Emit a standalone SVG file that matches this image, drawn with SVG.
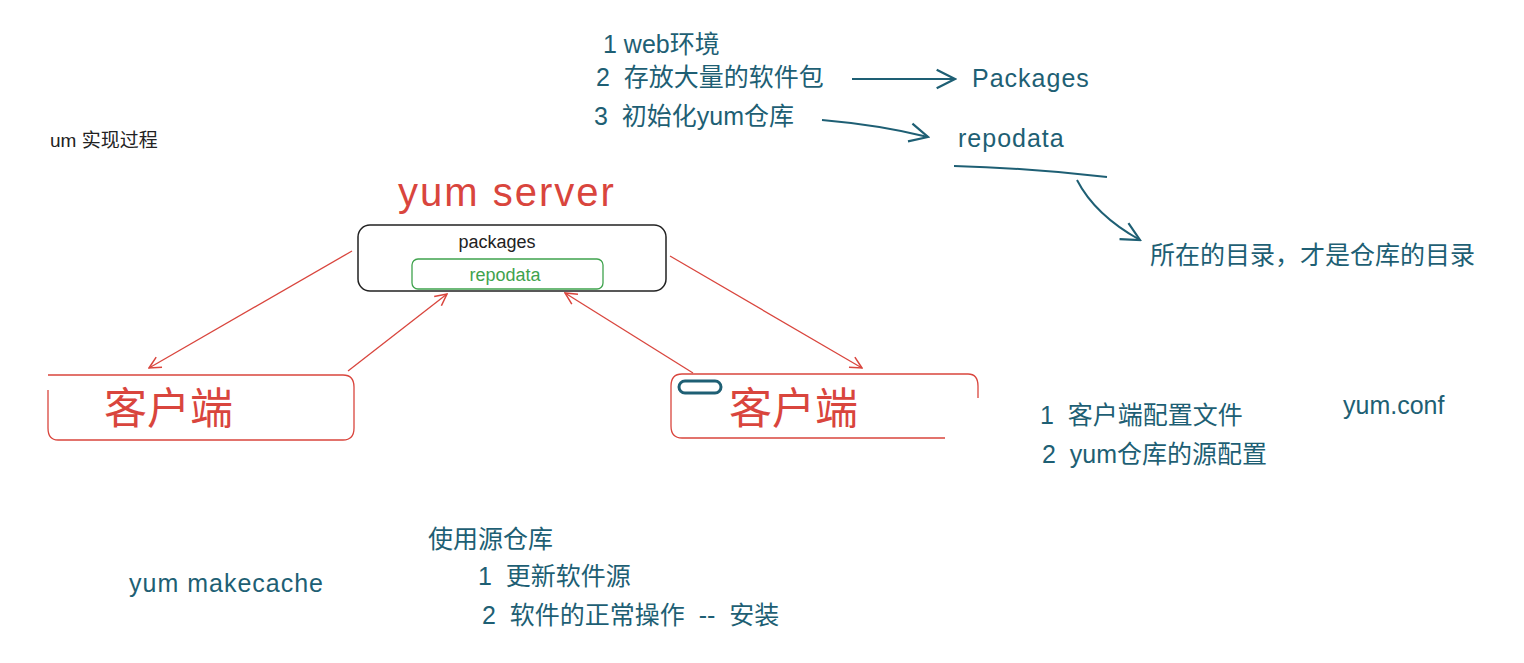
<svg xmlns="http://www.w3.org/2000/svg" width="1524" height="663" viewBox="0 0 1524 663">
<style>
.t{font-family:"Liberation Sans","Noto Sans CJK SC",sans-serif;fill:#1e5f74;font-size:25px;white-space:pre}
.r{stroke:#d9453d;stroke-width:1.3;fill:none}
.b{stroke:#1e5f74;stroke-width:2;fill:none}
</style>
<defs>
<marker id="ar" viewBox="0 0 12 12" refX="11" refY="6" markerWidth="14" markerHeight="14" markerUnits="userSpaceOnUse" orient="auto"><path d="M1 1 L11 6 L1 11" fill="none" stroke="#d9453d" stroke-width="1.3"/></marker>
<marker id="ab" viewBox="0 0 12 12" refX="11" refY="6" markerWidth="22" markerHeight="22" markerUnits="userSpaceOnUse" orient="auto"><path d="M1 1 L11 6 L1 11" fill="none" stroke="#1e5f74" stroke-width="1.2"/></marker>
</defs>
<rect width="1524" height="663" fill="#fff"/>
<text x="50" y="147" font-family="Liberation Sans,Noto Sans CJK SC,sans-serif" font-size="19" fill="#222">um 实现过程</text>
<g id="title"><text x="398" y="206" font-family="Liberation Sans,sans-serif" font-size="40" letter-spacing="2" fill="#d9453d">yum server</text></g>
<g id="server">
<rect x="358" y="225" width="308" height="66" rx="12" fill="none" stroke="#222" stroke-width="1.5"/>
<text x="497" y="248" text-anchor="middle" font-family="Liberation Sans,sans-serif" font-size="18" fill="#222">packages</text>
<rect x="412" y="259" width="191" height="30" rx="6" fill="none" stroke="#3fa34d" stroke-width="1.3"/>
<text x="505" y="281" text-anchor="middle" font-family="Liberation Sans,sans-serif" font-size="18" fill="#3fa34d">repodata</text>
</g>
<g id="client1">
<path class="r" d="M48 375 H343 Q354 375 354 387 V428 Q354 440 343 440 H58 Q48 440 48 428 V390"/>
<text x="104" y="424" font-family="Noto Sans CJK SC,sans-serif" font-size="43" fill="#d9453d">客户端</text>
</g>
<g id="client2">
<path class="r" d="M682 374 H968 Q978 374 978 386 V398 M945 438 H682 Q671 438 671 426 V386 Q671 374 682 374"/>
<rect x="679" y="381" width="42" height="12" rx="6" fill="none" stroke="#1e5f74" stroke-width="3"/>
<text x="729" y="424" font-family="Noto Sans CJK SC,sans-serif" font-size="43" fill="#d9453d">客户端</text>
</g>
<g id="connectors">
<line class="r" x1="352" y1="251" x2="149" y2="368" marker-end="url(#ar)"/>
<line class="r" x1="348" y1="371" x2="447" y2="294" marker-end="url(#ar)"/>
<line class="r" x1="693" y1="373" x2="565" y2="293" marker-end="url(#ar)"/>
<line class="r" x1="670" y1="256" x2="862" y2="368" marker-end="url(#ar)"/>
<path class="b" d="M852 79 L955 79" marker-end="url(#ab)"/>
<path class="b" d="M822 120 Q880 125 928 137" marker-end="url(#ab)"/>
<path class="b" d="M954 166 Q1030 168 1107 177"/>
<path class="b" d="M1077 180 Q1095 215 1140 240" marker-end="url(#ab)"/>
</g>
<g id="notes">
<text class="t" x="603" y="53">1 web环境</text>
<text class="t" x="596" y="86">2  存放大量的软件包</text>
<text class="t" x="594" y="125">3  初始化yum仓库</text>
<text class="t" x="972" y="87" letter-spacing="1">Packages</text>
<text class="t" x="958" y="147" letter-spacing="1">repodata</text>
<text class="t" x="1150" y="264" font-size="26">所在的目录，才是仓库的目录</text>
<text class="t" x="1040" y="424">1  客户端配置文件</text>
<text class="t" x="1042" y="463">2  yum仓库的源配置</text>
<text class="t" x="1343" y="414" font-size="22">yum.conf</text>
<text class="t" x="428" y="548">使用源仓库</text>
<text class="t" x="478" y="585">1  更新软件源</text>
<text class="t" x="482" y="624">2  软件的正常操作  --  安装</text>
<text class="t" x="129" y="592" font-size="23" letter-spacing="1">yum makecache</text>
</g>
</svg>
